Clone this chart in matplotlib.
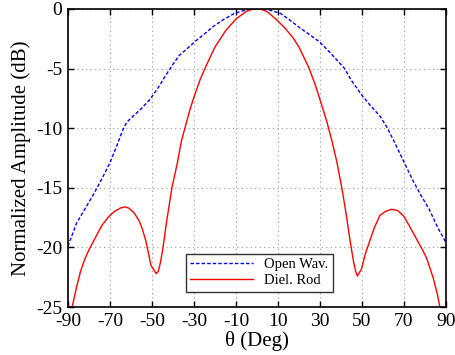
import numpy as np
import matplotlib
matplotlib.use('Agg')
import matplotlib.pyplot as plt

# radiation patterns, normalized amplitude (dB) vs. theta (deg)
theta_wav = [-90, -86, -82, -78, -74, -70, -67, -64, -62, -59, -55, -51, -47, -43,
             -40, -37, -33, -29.5, -25, -21, -16, -10.5, -5, 0, 5, 11, 15, 20.5,
             25, 30, 35, 41.5, 45, 49.8, 54, 58.6, 61.8, 65, 68, 71, 74, 78, 82,
             86, 90]
amp_wav = [-19.9, -18.0, -16.8, -15.6, -14.3, -12.9, -11.6, -10.2, -9.5, -9.0,
           -8.35, -7.6, -6.6, -5.45, -4.65, -3.9, -3.3, -2.74, -2.1, -1.5, -0.9,
           -0.36, -0.08, 0.0, -0.05, -0.36, -0.85, -1.6, -2.15, -2.8, -3.7, -4.95,
           -6.0, -7.2, -8.1, -9.0, -9.9, -11.0, -12.1, -13.2, -14.3, -15.6, -16.8,
           -18.3, -19.6]

theta_rod = [-90, -88, -86, -84, -82, -80, -77, -74, -71, -68, -65, -63, -61, -58.5,
             -56, -54.5, -53, -51.5, -50.5, -49, -48, -47, -46, -45, -44, -43, -42,
             -40.5, -38, -36, -34, -32, -30, -27, -24, -20, -15, -10, -5, -2, 0,
             2, 5, 9.4, 13, 17.3, 20, 24.9, 28, 31.6, 33.5, 35.6, 38, 40.3, 42.3,
             44.3, 46, 47, 47.8, 48.8, 49.8, 51.5, 53.8, 56, 58.6, 61, 64, 67, 70,
             72.9, 76, 78.5, 80.8, 84, 86, 87.1, 90]
amp_rod = [-27.4, -25.0, -23.4, -22.0, -21.0, -20.2, -19.2, -18.2, -17.5, -17.0,
           -16.7, -16.6, -16.7, -17.1, -17.8, -18.5, -19.4, -20.6, -21.5, -21.9,
           -22.2, -22.0, -21.3, -20.3, -19.1, -17.8, -16.7, -15.0, -13.0, -11.1,
           -9.8, -8.5, -7.4, -5.9, -4.7, -3.2, -1.85, -0.85, -0.2, -0.03, 0.0,
           -0.03, -0.25, -0.92, -1.55, -2.45, -3.2, -5.0, -6.5, -8.5, -9.6, -11.0,
           -12.8, -14.9, -17.0, -19.4, -21.2, -22.0, -22.4, -22.1, -21.8, -20.6,
           -19.4, -18.3, -17.3, -17.0, -16.8, -16.9, -17.4, -18.3, -19.3, -20.1,
           -20.9, -22.6, -24.0, -25.0, -27.3]

xticks = list(range(-90, 91, 20))
yticks = list(range(-25, 1, 5))

plt.rcParams['font.family'] = 'Liberation Serif'
plt.rcParams['axes.unicode_minus'] = False

fig = plt.figure(figsize=(4.56, 3.55), dpi=100)
ax = fig.add_axes([0.149, 0.135, 0.829, 0.840])

ax.plot(theta_wav, amp_wav, color='#0000ff', linestyle=(0, (2.5, 1.5)),
        linewidth=1.0, label='Open Wav.')
ax.plot(theta_rod, amp_rod, color='#ff0000', linewidth=1.0, label='Diel. Rod')

ax.set_xlim(-90, 90)
ax.set_ylim(-25, 0)
ax.set_xticks(xticks)
ax.set_yticks(yticks)
ax.tick_params(direction='in', length=4, width=1, top=True, right=True,
               labelsize=14, pad=4)
ax.grid(True, linestyle=(0, (1, 3)), color='#999999', linewidth=0.8)
for s in ax.spines.values():
    s.set_linewidth(1.2)

ax.set_xlabel('θ (Deg)', fontsize=15, labelpad=1)
ax.set_ylabel('Normalized Amplitude (dB)', fontsize=15, labelpad=4)

leg = ax.legend(loc='lower left', bbox_to_anchor=(0.311, 0.051), borderaxespad=0,
                fontsize=10.5, fancybox=False, framealpha=1, edgecolor='#333333',
                handlelength=4.3, borderpad=0.3, labelspacing=0.2,
                handletextpad=0.8)
leg.get_frame().set_linewidth(1.0)

fig.savefig('out.png', dpi=100)
